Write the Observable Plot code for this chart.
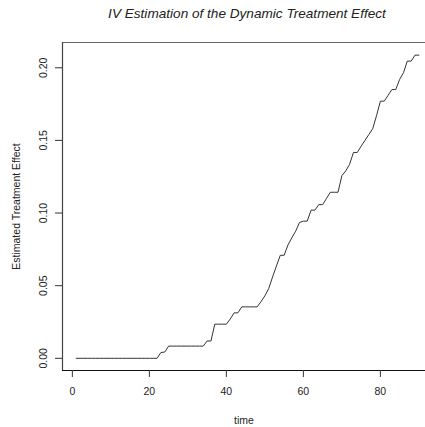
<!DOCTYPE html>
<html>
<head>
<meta charset="utf-8">
<script src="https://cdn.jsdelivr.net/npm/d3@7"></script>
<script src="https://cdn.jsdelivr.net/npm/@observablehq/plot@0.6"></script>
<style>
  html, body { margin: 0; padding: 0; background: #fff; }
  #wrap { position: relative; width: 425px; height: 427px; overflow: hidden; }
  #title { position: absolute; left: 62px; width: 370px; top: 6px; text-align: center;
    font-family: "Liberation Sans", Arial, sans-serif; font-style: italic; font-size: 13.6px; color: #222; }
</style>
</head>
<body>
<div id="wrap"><div id="title">IV Estimation of the Dynamic Treatment Effect</div></div>
<script>
const titleText = "IV Estimation of the Dynamic Treatment Effect";
const xLabel = "time";
const yLabel = "Estimated Treatment Effect";
const xTicks = [0, 20, 40, 60, 80];
const yTicks = [0, 0.05, 0.10, 0.15, 0.20];
const time = d3.range(1, 91);
const effect = [
  0, 0, 0, 0, 0, 0, 0, 0, 0, 0,
  0, 0, 0, 0, 0, 0, 0, 0, 0, 0,
  0, 0, 0.004, 0.0043, 0.0084, 0.0084, 0.0084, 0.0084, 0.0084, 0.0084,
  0.0084, 0.0084, 0.0084, 0.0084, 0.0119, 0.0119, 0.0235, 0.0235, 0.0235, 0.0235,
  0.027, 0.0313, 0.0313, 0.0354, 0.0354, 0.0354, 0.0354, 0.0354, 0.039, 0.043,
  0.048, 0.056, 0.0635, 0.0709, 0.0709, 0.078, 0.083, 0.0875, 0.0935, 0.0944,
  0.0944, 0.102, 0.102, 0.1058, 0.1058, 0.110, 0.1143, 0.1143, 0.1143, 0.1257,
  0.129, 0.1335, 0.1417, 0.1417, 0.146, 0.150, 0.154, 0.158, 0.167, 0.177,
  0.177, 0.181, 0.185, 0.185, 0.192, 0.1966, 0.2046, 0.2046, 0.2087, 0.2087
];
const data = time.map((t, i) => ({time: t, effect: effect[i]}));

document.getElementById("title").textContent = titleText;

const font = "Liberation Sans, Arial, sans-serif";
const chart = Plot.plot({
  width: 425,
  height: 427,
  marginLeft: 62,
  marginRight: 0,
  marginTop: 42,
  marginBottom: 57,
  style: {fontFamily: font, fontSize: "10.5px", color: "#222", background: "transparent"},
  x: {domain: [-2.56, 91.72], label: null},
  y: {domain: [-0.0084, 0.2174], label: null},
  marks: [
    Plot.frame({stroke: "#666", strokeWidth: 1}),
    Plot.ruleY([-0.0084], {stroke: "#111", strokeWidth: 1.2}),
    Plot.ruleX([-2.56], {stroke: "#444", strokeWidth: 1.2}),
    Plot.axisX({ticks: xTicks, tickSize: 7, tickPadding: 10, tickFormat: d => d, label: null, stroke: "#333", fill: "#222", fontSize: 10.5}),
    Plot.axisY({ticks: yTicks, tickSize: 7, text: null, label: null, stroke: "#333"}),
    Plot.text(yTicks, {y: d => d, text: d => d.toFixed(2), frameAnchor: "left", dx: -19, rotate: -90, textAnchor: "middle", fill: "#222", fontSize: 10.5}),
    Plot.text([xLabel], {frameAnchor: "bottom", dy: 50, lineAnchor: "middle", fill: "#222", fontSize: 10.5}),
    Plot.text([yLabel], {frameAnchor: "left", dx: -46, rotate: -90, textAnchor: "middle", fill: "#222", fontSize: 10.5}),
    Plot.line(data, {x: "time", y: "effect", stroke: "#333", strokeWidth: 1})
  ]
});
document.getElementById("wrap").appendChild(chart);
</script>
</body>
</html>
